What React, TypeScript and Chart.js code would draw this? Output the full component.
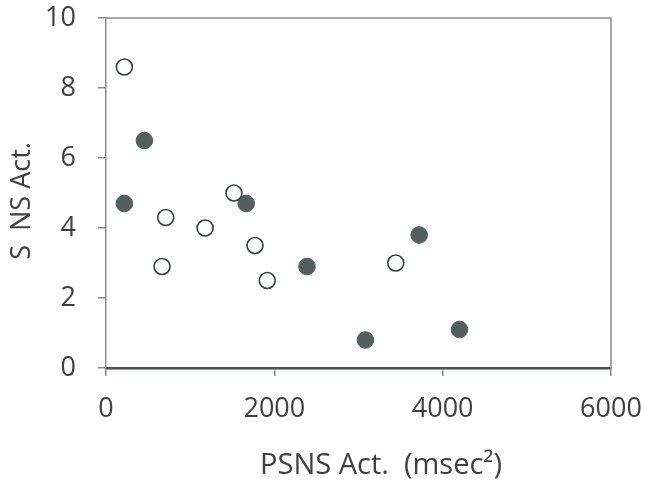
import React, { useEffect, useRef } from "react";
import { Chart, registerables } from "chart.js";

Chart.register(...registerables);

const openX = [218, 710, 666, 1178, 1520, 1770, 1916, 3443];
const openY = [8.6, 4.3, 2.9, 4.0, 5.0, 3.5, 2.5, 3.0];
const filledX = [218, 456, 1666, 2388, 3082, 3721, 4200];
const filledY = [4.7, 6.5, 4.7, 2.9, 0.8, 3.8, 1.1];

const xTicks = [0, 2000, 4000, 6000];
const yTicks = [0, 2, 4, 6, 8, 10];
const xTitle = "PSNS Act.  (msec\u00B2)";
const yTitle = "S  NS Act.";

const FONT = "'Open Sans', 'Liberation Sans', sans-serif";
const TEXT = "#404040";
const DARK = "#545e5c";

export default function App() {
  const ref = useRef<HTMLCanvasElement | null>(null);

  useEffect(() => {
    document.body.style.margin = "0";
    const ctx = ref.current!.getContext("2d")!;

    const framePlugin = {
      id: "frame",
      beforeDatasetsDraw(chart: any) {
        const { ctx, chartArea: a } = chart;
        ctx.save();
        ctx.strokeStyle = "#8a8a8a";
        ctx.lineWidth = 1.5;
        ctx.beginPath();
        ctx.moveTo(a.left, a.top);
        ctx.lineTo(a.right, a.top);
        ctx.lineTo(a.right, a.bottom);
        ctx.stroke();
        ctx.restore();
      },
      afterDraw(chart: any) {
        const { ctx, chartArea: a } = chart;
        ctx.save();
        ctx.fillStyle = TEXT;
        ctx.font = `29px ${FONT}`;
        ctx.textAlign = "center";
        ctx.textBaseline = "middle";
        ctx.fillText(xTitle, a.left + 275, a.bottom + 98);
        ctx.font = `27px ${FONT}`;
        ctx.translate(22, a.top + 183);
        ctx.rotate(-Math.PI / 2);
        ctx.fillText(yTitle, 0, 0);
        ctx.restore();
      },
    };

    const chart = new Chart(ctx, {
      type: "scatter",
      data: {
        datasets: [
          {
            label: "open",
            data: openX.map((x, i) => ({ x, y: openY[i] })),
            backgroundColor: "#ffffff",
            borderColor: "#3a3f3e",
            borderWidth: 1.6,
            pointRadius: 8,
          },
          {
            label: "filled",
            data: filledX.map((x, i) => ({ x, y: filledY[i] })),
            backgroundColor: DARK,
            borderColor: DARK,
            borderWidth: 1,
            pointRadius: 8.3,
          },
        ],
      },
      options: {
        animation: false,
        responsive: false,
        layout: { padding: { top: 18, right: 34, left: 0, bottom: 0 } },
        plugins: { legend: { display: false }, tooltip: { enabled: false } },
        scales: {
          x: {
            type: "linear",
            min: 0,
            max: 6000,
            afterBuildTicks: (s: any) => {
              s.ticks = xTicks.map((v) => ({ value: v }));
            },
            afterFit: (s: any) => {
              s.height = 118;
              s.paddingLeft = 0;
              s.paddingRight = 0;
            },
            ticks: {
              color: TEXT,
              font: { family: FONT, size: 27 },
              padding: 17,
              maxRotation: 0,
              callback: (v: any) => String(v),
            },
            grid: { drawOnChartArea: false, drawTicks: true, tickLength: 8, color: "#8a8a8a", lineWidth: 1.5 },
            border: { display: true, color: "#4a5150", width: 2.5 },
          },
          y: {
            type: "linear",
            min: 0,
            max: 10,
            afterBuildTicks: (s: any) => {
              s.ticks = yTicks.map((v) => ({ value: v }));
            },
            afterFit: (s: any) => {
              s.width = 106;
              s.paddingTop = 0;
              s.paddingBottom = 0;
            },
            ticks: {
              color: TEXT,
              font: { family: FONT, size: 27 },
              padding: 22,
              callback: (v: any) => String(v),
            },
            grid: { drawOnChartArea: false, drawTicks: true, tickLength: 8, color: "#8a8a8a", lineWidth: 1.5 },
            border: { display: true, color: "#8a8a8a", width: 1.5 },
          },
        },
      },
      plugins: [framePlugin],
    });
    return () => chart.destroy();
  }, []);

  return (
    <div style={{ position: "absolute", left: 0, top: 0, width: 645, height: 486, background: "#fff" }}>
      <canvas ref={ref} width={645} height={486} style={{ width: 645, height: 486 }} />
    </div>
  );
}
